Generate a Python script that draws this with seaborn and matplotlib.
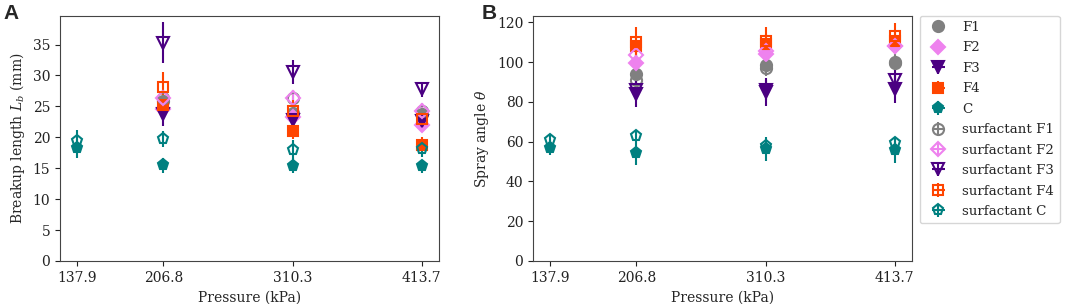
import numpy as np
import pandas as pd
import matplotlib
matplotlib.use("Agg")
import matplotlib.pyplot as plt
import seaborn as sns

pressure = [137.9, 206.8, 310.3, 413.7]
series = ["F1", "F2", "F3", "F4", "C",
          "surfactant F1", "surfactant F2", "surfactant F3", "surfactant F4", "surfactant C"]
colors = ["gray", "violet", "indigo", "orangered", "teal"] * 2
markers = ["o", "D", "v", "s", "p"] * 2
msizes = [8, 7.5, 8.5, 6.8, 8] * 2
nan = np.nan

# Breakup length (mm), mean and error
lb_F1 = [nan, 25.8, 24.0, 23.8]
lb_F2 = [nan, 24.6, 23.3, 22.0]
lb_F3 = [nan, 23.8, 22.8, 22.6]
lb_F4 = [nan, 25.3, 21.0, 18.7]
lb_C = [18.2, 15.5, 15.4, 15.3]
lb_sF1 = [nan, 26.3, 26.3, 24.2]
lb_sF2 = [nan, 26.3, 26.4, 24.2]
lb_sF3 = [nan, 35.3, 30.6, 27.8]
lb_sF4 = [nan, 28.1, 24.2, 23.0]
lb_sC = [19.4, 19.8, 18.0, 18.1]

lb_err_F1 = [nan, 1.5, 1.5, 1.3]
lb_err_F2 = [nan, 1.5, 1.3, 1.2]
lb_err_F3 = [nan, 2.0, 1.3, 1.3]
lb_err_F4 = [nan, 1.5, 1.2, 1.3]
lb_err_C = [1.6, 1.2, 1.2, 1.1]
lb_err_sF1 = [nan, 1.4, 1.3, 1.3]
lb_err_sF2 = [nan, 1.4, 1.3, 1.3]
lb_err_sF3 = [nan, 3.3, 1.9, 1.2]
lb_err_sF4 = [nan, 2.5, 1.8, 1.4]
lb_err_sC = [1.8, 1.3, 1.5, 1.3]

# Spray angle (deg), mean and error
sa_F1 = [nan, 94.2, 98.4, 99.6]
sa_F2 = [nan, 99.6, 104.0, 108.0]
sa_F3 = [nan, 84.2, 84.9, 86.5]
sa_F4 = [nan, 108.0, 109.0, 110.5]
sa_C = [56.9, 54.4, 56.4, 55.7]
sa_sF1 = [nan, 91.2, 97.1, 100.0]
sa_sF2 = [nan, 103.8, 105.4, 108.3]
sa_sF3 = [nan, 86.0, 86.0, 90.9]
sa_sF4 = [nan, 110.0, 110.5, 113.0]
sa_sC = [60.8, 63.1, 57.7, 59.4]

sa_err_F1 = [nan, 4.0, 4.0, 4.0]
sa_err_F2 = [nan, 4.0, 4.0, 4.0]
sa_err_F3 = [nan, 6.5, 7.0, 7.0]
sa_err_F4 = [nan, 5.0, 5.0, 5.0]
sa_err_C = [3.8, 6.0, 6.0, 6.2]
sa_err_sF1 = [nan, 4.0, 4.0, 4.0]
sa_err_sF2 = [nan, 4.0, 4.0, 4.0]
sa_err_sF3 = [nan, 5.0, 5.0, 5.0]
sa_err_sF4 = [nan, 7.5, 7.0, 6.7]
sa_err_sC = [2.5, 2.5, 3.5, 3.0]

lb_vals = [lb_F1, lb_F2, lb_F3, lb_F4, lb_C, lb_sF1, lb_sF2, lb_sF3, lb_sF4, lb_sC]
lb_errs = [lb_err_F1, lb_err_F2, lb_err_F3, lb_err_F4, lb_err_C,
           lb_err_sF1, lb_err_sF2, lb_err_sF3, lb_err_sF4, lb_err_sC]
sa_vals = [sa_F1, sa_F2, sa_F3, sa_F4, sa_C, sa_sF1, sa_sF2, sa_sF3, sa_sF4, sa_sC]
sa_errs = [sa_err_F1, sa_err_F2, sa_err_F3, sa_err_F4, sa_err_C,
           sa_err_sF1, sa_err_sF2, sa_err_sF3, sa_err_sF4, sa_err_sC]

sns.set_style("ticks")
plt.rcParams['font.family'] = ['DejaVu Serif']
plt.rcParams['mathtext.fontset'] = 'dejavuserif'
plt.rcParams['font.size'] = 10
plt.rcParams['axes.edgecolor'] = '#444444'
plt.rcParams['xtick.color'] = '#222222'
plt.rcParams['ytick.color'] = '#222222'

fig = plt.figure(figsize=(10.65, 3.04), dpi=100)
axA = fig.add_axes([60/1065, 1-261/304, 379/1065, 245.5/304])
axB = fig.add_axes([533/1065, 1-261/304, 379/1065, 245.5/304])


def draw(ax, vals, errs):
    for i, name in enumerate(series):
        open_marker = i >= 5
        ax.errorbar(pressure, vals[i], yerr=errs[i], xerr=[0, 0, 0, 0],
                    fmt=markers[i], color=colors[i], ms=msizes[i],
                    mfc='none' if open_marker else colors[i],
                    mew=1.5, elinewidth=1.5, capsize=0, label=name)
    ax.set_xticks(pressure)
    ax.set_xticklabels([f"{p}" for p in pressure])
    ax.set_xlim(124.1, 427.5)
    ax.set_xlabel("Pressure (kPa)")


draw(axA, lb_vals, lb_errs)
axA.set_ylim(0, 39.7)
axA.set_yticks(np.arange(0, 36, 5))
axA.set_ylabel("Breakup length $L_b$ (mm)")

draw(axB, sa_vals, sa_errs)
axB.set_ylim(0, 123.5)
axB.set_yticks(np.arange(0, 121, 20))
axB.set_ylabel(r"Spray angle $\theta$")

axB.legend(loc="upper left", bbox_to_anchor=(1.02, 1.0), frameon=True,
           fontsize=9.6, borderaxespad=0, handletextpad=0.8, labelspacing=0.56)

fig.text(3/1065, 1-4/304, "A", fontsize=15, fontweight="bold",
         family="Liberation Sans", va="top", ha="left")
fig.text(482/1065, 1-4/304, "B", fontsize=15, fontweight="bold",
         family="Liberation Sans", va="top", ha="left")

fig.savefig("out.png", dpi=100)
